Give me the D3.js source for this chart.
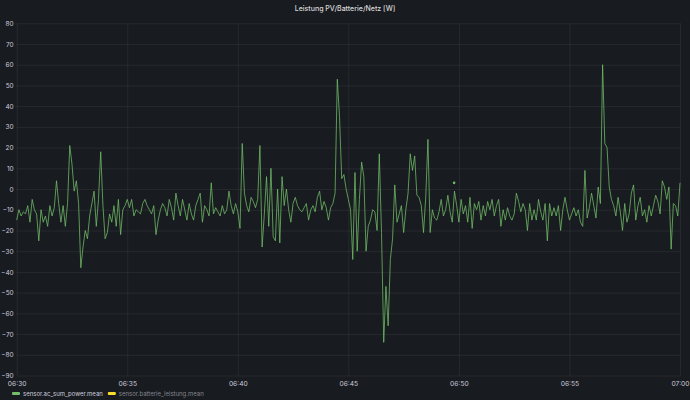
<!DOCTYPE html>
<html>
<head>
<meta charset="utf-8">
<script src="https://cdn.jsdelivr.net/npm/d3@7"></script>
<style>
  html, body { margin: 0; padding: 0; background: #181b1f; }
  #chart { width: 690px; height: 400px; overflow: hidden; }
  text { font-family: Inter, "Open Sans", sans-serif; }
</style>
</head>
<body>
<div id="chart"></div>
<script>
// sensor.ac_sum_power.mean, one sample every 6 s from 06:30:00
const startTime = "06:30:00";
const endTime = "07:00:00";
const stepSeconds = 6;
const acSumPower = [
  -15, -10, -13, -11, -12, -8, -16, -5, -10, -12, -25, -10, -16, -13, -18, -8, -13, -9, 4, -7,
  -16, -8, -18, -7, 21, 12, -1, 4, -7, -38, -28, -20, -24, -13, -7, -1, -18, -5, 18, -8,
  -24, -21, -12, -16, -8, -18, -5, -22, -10, -8, -5, -9, -5, -13, -10, -11, -12, -7, -5, -8,
  -10, -12, -8, -22, -15, -10, -7, -9, -13, -5, -9, -15, -2, -8, -13, -5, -10, -15, -7, -12,
  -15, -8, -5, -2, -16, -8, -10, -13, 3, -12, -9, -11, -13, -8, -12, -10, -1, -8, -12, -7,
  -11, -19, 22, -2, -8, -11, -4, -6, -9, -5, 21, -28, -12, 6, -18, 10, -23, -25, 0, -26,
  6, -8, 0, -10, -16, -7, -4, -8, -10, -11, -9, -7, -15, -10, -8, -11, -4, -1, -10, -6,
  -9, -15, -9, -7, -2, 53, 35, 5, 7, 0, -5, -10, -34, 8, -30, -5, 13, 6, -30, -18,
  -15, -10, -11, -20, 17, -21, -74, -47, -66, -34, -24, 2, -16, -12, -8, -21, -10, -2, 17, 9,
  16, -3, -4, -8, -21, -4, 24, -21, -10, -14, -15, -11, -5, -13, -10, -3, -11, -16, -1, -8,
  -16, -5, -12, -8, -16, -4, -19, -7, -10, -6, -15, -8, -13, -6, -10, -5, -13, -8, -5, -18,
  -10, -15, -9, -13, -15, -12, -2, -6, -11, -7, -10, -20, -7, -15, -10, -15, -5, -11, -15, -7,
  -25, -7, -13, -9, -13, -8, -20, -10, -4, -10, -15, -12, -9, -13, -10, -16, -18, 9, -14, -9,
  -2, -8, -14, 1, -7, 60, 22, 20, 1, -5, -8, -13, -4, -11, -20, -7, -16, -12, -2, 2,
  -15, -8, -4, -13, -10, -16, -8, -13, -8, -3, -6, -12, 4, 1, -5, 1, -29, -7, -8, -13,
  3
];
// lone sample drawn as a dot
const acSumPowerDots = [{ time: "06:49:47", value: 3 }];
// sensor.batterie_leistung.mean has no samples in this range
const batterieLeistung = [];

const yTicks = [80, 70, 60, 50, 40, 30, 20, 10, 0, -10, -20, -30, -40, -50, -60, -70, -80, -90];
const xTickMinutes = 5;
const title = "Leistung PV/Batterie/Netz [W]";
const seriesNames = ["sensor.ac_sum_power.mean", "sensor.batterie_leistung.mean"];
const seriesColors = ["#73bf69", "#fade2a"];

const width = 690, height = 400;
const margin = { top: 23.3, right: 10, bottom: 24.5, left: 16.7 };

const parseTime = d3.timeParse("%H:%M:%S");
const t0 = parseTime(startTime);
const t1 = parseTime(endTime);

const data = acSumPower.map((v, i) => ({
  time: new Date(t0.getTime() + i * stepSeconds * 1000),
  value: v
}));

const svg = d3.select("#chart")
  .append("svg")
  .attr("width", width)
  .attr("height", height);

const x = d3.scaleTime()
  .domain([t0, t1])
  .range([margin.left, width - margin.right]);

const y = d3.scaleLinear()
  .domain([-90, 80])
  .range([height - margin.bottom, margin.top]);

// grid
svg.append("g")
  .attr("transform", `translate(${margin.left},0)`)
  .call(d3.axisLeft(y).tickValues(yTicks)
    .tickSize(-(width - margin.left - margin.right)).tickFormat(""))
  .call(g => g.select(".domain").remove())
  .selectAll("line")
  .attr("stroke", "rgba(204,204,220,0.08)");

svg.append("g")
  .attr("transform", `translate(0,${margin.top})`)
  .call(d3.axisTop(x).ticks(d3.timeMinute.every(xTickMinutes))
    .tickSize(-(height - margin.top - margin.bottom)).tickFormat(""))
  .call(g => g.select(".domain").remove())
  .selectAll("line")
  .attr("stroke", "rgba(204,204,220,0.08)");

// y labels
const yAxis = svg.append("g")
  .attr("transform", `translate(${margin.left - 3},0)`)
  .call(d3.axisLeft(y).tickValues(yTicks).tickSize(0).tickFormat(d3.format("d")));
yAxis.select(".domain").remove();
yAxis.selectAll("text")
  .attr("x", 0)
  .attr("fill", "#ccccdc")
  .style("font-size", "6.5px");

// x labels
const xAxis = svg.append("g")
  .attr("transform", `translate(0,${height - margin.bottom + 3})`)
  .call(d3.axisBottom(x).ticks(d3.timeMinute.every(xTickMinutes))
    .tickSize(0).tickFormat(d3.timeFormat("%H:%M")));
xAxis.select(".domain").remove();
xAxis.selectAll("text")
  .attr("fill", "#ccccdc")
  .style("font-size", "6.7px");

// series
const line = d3.line()
  .x(d => x(d.time))
  .y(d => y(d.value));

svg.append("path")
  .datum(data)
  .attr("fill", "none")
  .attr("stroke", seriesColors[0])
  .attr("stroke-width", 0.85)
  .attr("stroke-opacity", 0.9)
  .attr("stroke-linejoin", "round")
  .attr("d", line);

svg.selectAll(".dot")
  .data(acSumPowerDots)
  .enter()
  .append("circle")
  .attr("class", "dot")
  .attr("cx", d => x(parseTime(d.time)))
  .attr("cy", d => y(d.value))
  .attr("r", 1.3)
  .attr("fill", seriesColors[0]);

if (batterieLeistung.length) {
  svg.append("path")
    .datum(batterieLeistung)
    .attr("fill", "none")
    .attr("stroke", seriesColors[1])
    .attr("d", line);
}

// title
svg.append("text")
  .attr("x", width / 2)
  .attr("y", 10.5)
  .attr("text-anchor", "middle")
  .attr("fill", "#d8d9da")
  .style("font-size", "7px")
  .style("font-weight", 500)
  .text(title);

// legend
const legend = svg.append("g").attr("transform", `translate(12,${height - 6.5})`);
let lx = 0;
seriesNames.forEach((name, i) => {
  const item = legend.append("g").attr("transform", `translate(${lx},0)`);
  item.append("rect")
    .attr("x", 0).attr("y", -1.5)
    .attr("width", 8).attr("height", 3).attr("rx", 1)
    .attr("fill", seriesColors[i]);
  const t = item.append("text")
    .attr("x", 11).attr("y", 2.2)
    .attr("fill", i === 0 ? "#ccccdc" : "rgba(204,204,220,0.6)")
    .style("font-size", "6px")
    .text(name);
  lx += 11 + t.node().getComputedTextLength() + 5;
});
</script>
</body>
</html>
